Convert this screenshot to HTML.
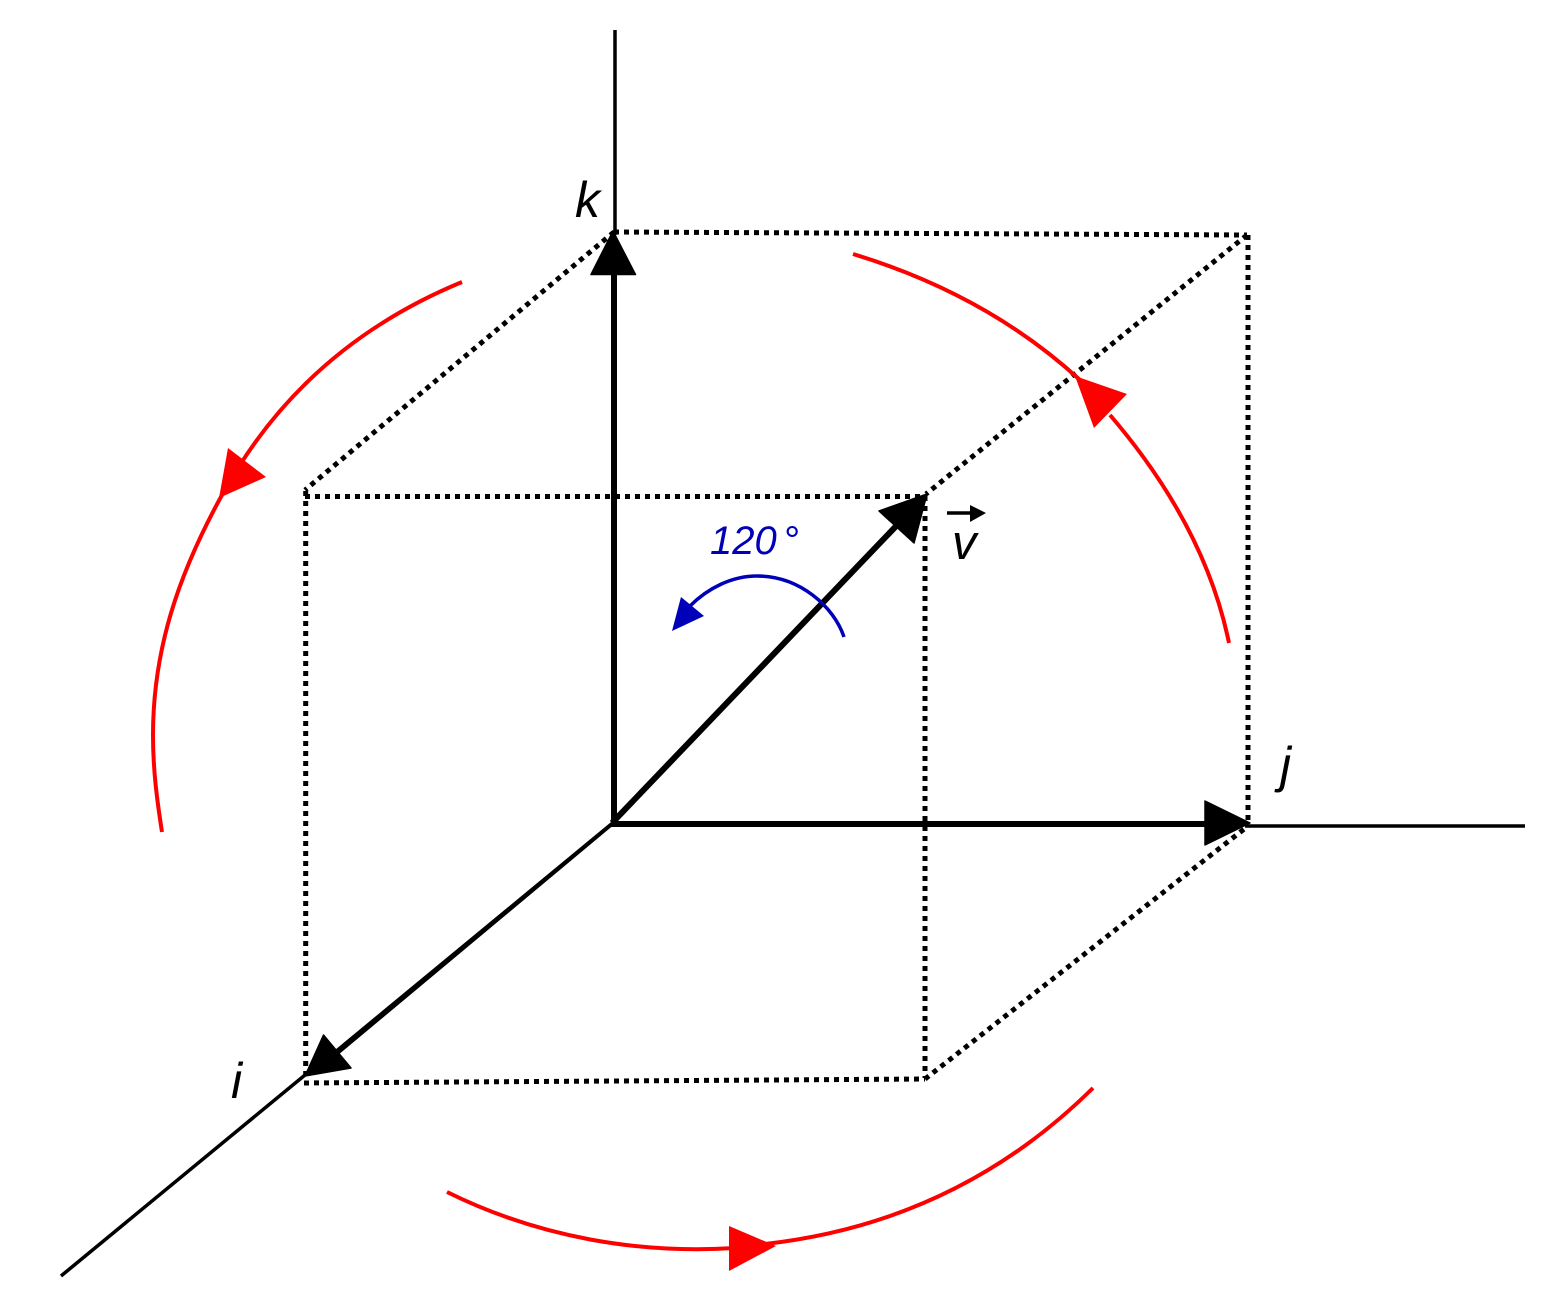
<!DOCTYPE html>
<html>
<head>
<meta charset="utf-8">
<style>
html,body{margin:0;padding:0;background:#fff;}
svg{display:block;}
text{font-family:"Liberation Sans",sans-serif;font-style:italic;}
</style>
</head>
<body>
<svg width="1555" height="1305" viewBox="0 0 1555 1305" xmlns="http://www.w3.org/2000/svg">
<rect width="1555" height="1305" fill="#fff"/>
<!-- thin axes -->
<g stroke="#000" stroke-width="3.5" fill="none">
<line x1="615" y1="30" x2="615" y2="235"/>
<line x1="1245" y1="826" x2="1525" y2="826"/>
<line x1="305" y1="1075" x2="61" y2="1276"/>
</g>
<!-- dotted cube -->
<g stroke="#000" stroke-width="5" fill="none" stroke-dasharray="5 5">
<line x1="614" y1="232" x2="1247" y2="235"/>
<line x1="1248" y1="235" x2="1248" y2="822"/>
<line x1="614" y1="232" x2="305" y2="490"/>
<line x1="1247" y1="235" x2="926" y2="494"/>
<line x1="305" y1="496.5" x2="925" y2="496.5"/>
<line x1="305.7" y1="491" x2="305.7" y2="1080"/>
<line x1="925" y1="496" x2="925" y2="1078"/>
<line x1="304" y1="1083" x2="925" y2="1079"/>
<line x1="925" y1="1079" x2="1248" y2="826"/>
</g>
<!-- thick vectors -->
<g stroke="#000" fill="none">
<line x1="614" y1="827" x2="614" y2="270" stroke-width="6"/>
<line x1="611" y1="824" x2="1210" y2="824" stroke-width="6"/>
<line x1="612" y1="823" x2="900" y2="522" stroke-width="6"/>
</g>
<polygon points="611.7,821.5 614.3,824.5 339,1054.3 335.2,1049.7" fill="#000"/>
<!-- black arrowheads -->
<g fill="#000" stroke="#000" stroke-width="1.5" stroke-linejoin="round">
<polygon points="613,231 635.5,274.5 591,274.5"/>
<polygon points="1250,823 1205,801 1205,845"/>
<polygon points="927,494 879,511 914,543"/>
<polygon points="305,1076 323.5,1035 351,1068"/>
</g>
<!-- red arcs -->
<g stroke="#f00" stroke-width="4" fill="none">
<path d="M462 282 C365 322 290 385 238 468"/>
<path d="M222 495 C178 575 153 650 153 735 C153 770 157 800 162 832"/>
<path d="M853 254 C945 282 1020 325 1080 380"/>
<path d="M1110 415 C1170 485 1212 560 1229 643"/>
<path d="M447 1192 C540 1238 640 1254 735 1248"/>
<path d="M765 1244 C890 1230 1000 1180 1093 1088"/>
</g>
<g fill="#f00">
<polygon points="219,498 228,448 266,477"/>
<polygon points="1075,376 1127,394 1094,428"/>
<polygon points="776,1246 729,1226 729,1271"/>
</g>
<!-- blue arc -->
<path d="M844 637 C834 607 800 576 757 576 C732 576 708 588 690 606" stroke="#0000b8" stroke-width="3.5" fill="none"/>
<polygon points="672,631 681,597 704,616" fill="#0000b8"/>
<!-- v arrow -->
<line x1="947" y1="513" x2="975" y2="513" stroke="#000" stroke-width="3.5"/>
<polygon points="986,513 970,505 970,522" fill="#000"/>
<!-- labels -->
<text x="575" y="217" font-size="50" fill="#000">k</text>
<text x="1280" y="782" font-size="50" fill="#000">j</text>
<text x="231" y="1098" font-size="50" fill="#000">i</text>
<text x="952" y="559" font-size="49" fill="#000">v</text>
<text x="710" y="554" font-size="40" fill="#0000b8">120<tspan dx="6">°</tspan></text>
</svg>
</body>
</html>
